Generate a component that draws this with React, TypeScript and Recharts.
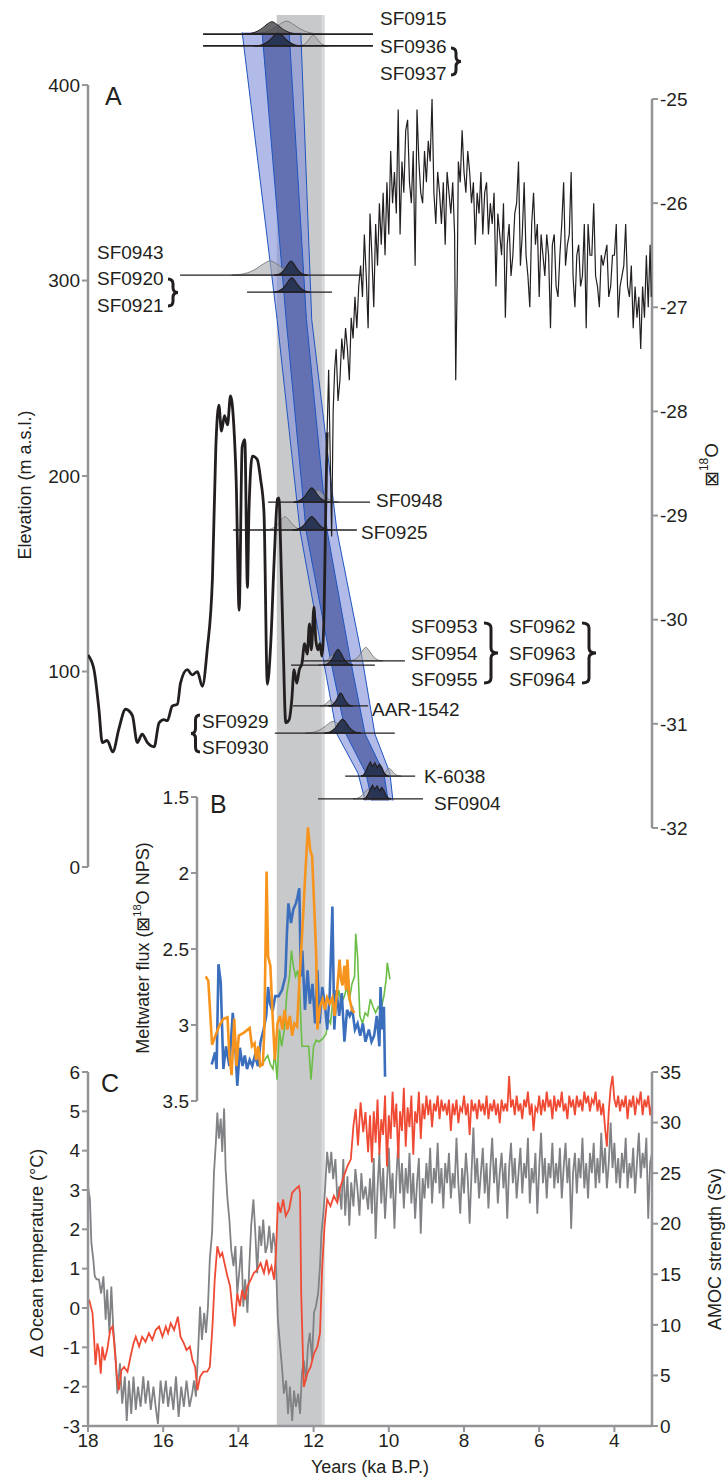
import React from "react";
import { ComposedChart, LineChart, Line, Area, XAxis, YAxis, ReferenceArea, ReferenceLine } from "recharts";

const W = 726;
const H = 1481;
const FONT = "'Liberation Sans', Arial, Helvetica, sans-serif";
const INK = "#231f20";
const AXIS = "#939598";

// shared x axis (ka BP)
const xTicks = [18, 16, 14, 12, 10, 8, 6, 4];
const elevTicks = [0, 100, 200, 300, 400];
const d18oTicks = [-32, -31, -30, -29, -28, -27, -26, -25];
const fluxTicks = [1.5, 2, 2.5, 3, 3.5];
const tempTicks = [-3, -2, -1, 0, 1, 2, 3, 4, 5, 6];
const amocTicks = [0, 5, 10, 15, 20, 25, 30, 35];
const youngerDryas = [12.98, 11.71];

// Panel A: δ18O, smoothed early part (thick) and the Holocene record (thin)
const d18oEarly: [number, number][] = [
  [18.0, -30.34], [17.84, -30.48], [17.71, -30.86], [17.62, -31.18], [17.49, -31.16], [17.34, -31.27], [17.18, -31.05],
  [17.0, -30.86], [16.82, -30.92], [16.69, -31.18], [16.56, -31.1], [16.42, -31.18], [16.24, -31.22], [16.11, -30.99],
  [15.98, -30.96], [15.89, -30.97], [15.76, -30.83], [15.62, -30.81], [15.54, -30.61], [15.36, -30.48], [15.23, -30.53],
  [15.09, -30.5], [14.96, -30.64], [14.83, -30.29], [14.69, -29.6], [14.6, -28.34], [14.52, -27.94], [14.45, -28.19],
  [14.37, -28.04], [14.29, -28.13], [14.21, -27.85], [14.12, -28.15], [14.06, -28.65], [13.98, -29.91], [13.9, -28.34],
  [13.83, -28.27], [13.76, -29.69], [13.72, -28.97], [13.63, -28.43], [13.5, -28.46], [13.41, -28.65], [13.32, -28.97],
  [13.23, -30.62], [13.14, -30.23], [13.05, -29.44], [12.96, -28.84], [12.92, -28.83], [12.88, -29.25], [12.81, -30.23],
  [12.74, -30.99], [12.65, -30.96], [12.58, -30.77], [12.52, -30.48], [12.45, -30.61], [12.38, -30.48], [12.31, -30.42],
  [12.24, -30.23], [12.17, -30.33], [12.11, -30.04], [12.06, -30.29], [11.99, -29.88], [11.94, -30.2], [11.88, -30.29],
  [11.83, -30.23], [11.78, -30.35], [11.72, -29.9], [11.68, -29.0], [11.64, -28.2],
];
const d18oHolocene: [number, number][] = [
  [11.64, -28.2], [11.6, -27.6], [11.56, -28.4], [11.52, -29.2], [11.48, -28.0], [11.44, -27.6], [11.4, -27.4], [11.35, -27.9],
  [11.3, -27.7], [11.25, -27.3], [11.2, -27.5], [11.15, -27.2], [11.1, -27.4], [11.05, -27.7], [11.0, -27.1], [10.95, -27.3],
  [10.9, -26.9], [10.85, -27.2], [10.8, -26.8], [10.75, -26.6], [10.7, -26.9], [10.65, -26.3], [10.6, -26.7], [10.55, -27.2],
  [10.5, -26.1], [10.45, -26.5], [10.4, -27.0], [10.35, -26.2], [10.3, -26.6], [10.25, -26.0], [10.2, -26.4], [10.15, -25.9],
  [10.1, -26.5], [10.05, -25.8], [10.0, -26.3], [9.95, -25.5], [9.9, -26.0], [9.85, -25.7], [9.8, -26.1], [9.75, -25.1],
  [9.7, -26.3], [9.65, -25.6], [9.6, -25.9], [9.55, -25.3], [9.5, -25.2], [9.45, -25.8], [9.4, -26.0], [9.35, -25.5],
  [9.3, -26.6], [9.25, -25.1], [9.2, -25.6], [9.15, -25.9], [9.1, -26.0], [9.05, -25.5], [9.0, -25.8], [8.95, -25.4],
  [8.9, -25.6], [8.85, -25.0], [8.8, -25.9], [8.75, -26.2], [8.7, -25.7], [8.65, -25.9], [8.6, -26.2], [8.55, -25.8],
  [8.5, -26.4], [8.45, -25.7], [8.4, -25.9], [8.35, -26.1], [8.3, -25.8], [8.25, -26.3], [8.22, -27.7], [8.18, -26.7],
  [8.15, -25.6], [8.1, -25.8], [8.05, -25.3], [8.0, -25.7], [7.95, -25.9], [7.9, -25.5], [7.85, -25.7], [7.8, -26.0],
  [7.75, -25.8], [7.7, -26.4], [7.65, -25.9], [7.6, -26.1], [7.55, -25.7], [7.5, -26.3], [7.45, -25.9], [7.4, -25.8],
  [7.35, -26.3], [7.3, -26.0], [7.25, -26.2], [7.2, -25.9], [7.15, -26.8], [7.1, -26.1], [7.05, -26.3], [7.0, -26.5],
  [6.95, -26.0], [6.9, -27.1], [6.85, -26.4], [6.8, -26.2], [6.75, -26.7], [6.7, -26.5], [6.65, -26.1], [6.6, -26.0],
  [6.55, -25.6], [6.5, -26.6], [6.45, -26.3], [6.4, -25.8], [6.35, -26.5], [6.3, -26.7], [6.25, -27.0], [6.2, -26.2],
  [6.15, -25.9], [6.1, -26.4], [6.05, -26.2], [6.0, -26.9], [5.95, -26.3], [5.9, -26.5], [5.85, -26.7], [5.8, -26.3],
  [5.75, -26.5], [5.7, -27.2], [5.65, -26.4], [5.6, -26.3], [5.55, -26.8], [5.5, -26.9], [5.45, -26.5], [5.4, -26.2],
  [5.35, -25.8], [5.3, -26.6], [5.25, -26.4], [5.2, -26.3], [5.15, -25.7], [5.1, -26.7], [5.05, -27.0], [5.0, -26.5],
  [4.95, -26.4], [4.9, -26.8], [4.85, -26.7], [4.8, -26.2], [4.75, -27.2], [4.7, -26.2], [4.65, -26.5], [4.6, -26.5],
  [4.55, -26.0], [4.5, -26.7], [4.45, -26.8], [4.4, -27.0], [4.35, -26.5], [4.3, -26.6], [4.25, -26.5], [4.2, -26.4],
  [4.15, -26.9], [4.1, -26.8], [4.05, -26.5], [4.0, -26.5], [3.95, -26.2], [3.9, -27.1], [3.85, -26.8], [3.8, -26.7],
  [3.75, -26.6], [3.7, -26.2], [3.65, -26.8], [3.6, -26.9], [3.55, -26.6], [3.5, -27.2], [3.45, -26.8], [3.4, -27.1],
  [3.35, -26.9], [3.3, -27.4], [3.25, -26.8], [3.2, -27.1], [3.15, -26.5], [3.1, -27.0], [3.05, -26.4], [3.02, -26.9],
];

// Panel A: thinning-history envelopes (elevation, age edges)
const bandElev = [427, 280, 172, 107, 68, 48, 34];
const outerOld = [13.9, 12.97, 12.36, 11.75, 11.38, 10.82, 10.63];
const innerOld = [13.37, 12.73, 12.2, 11.56, 11.14, 10.61, 10.45];
const innerYoung = [12.65, 12.19, 11.64, 11.03, 10.63, 10.13, 10.02];
const outerYoung = [12.34, 12.05, 11.38, 10.71, 10.37, 9.97, 9.89];

// Panel A: exposure-age sample lines [elevation, oldest age, youngest age]
const sampleLines: [number, number, number][] = [
  [426.1, 14.94, 10.42], [420.0, 14.94, 10.42], [302.8, 15.55, 10.71], [294.1, 13.77, 11.51],
  [186.7, 13.21, 10.5], [172.4, 14.14, 10.85], [105.4, 12.34, 9.57], [103.3, 12.6, 10.37],
  [82.4, 12.55, 10.55], [68.5, 13.03, 9.84], [46.5, 11.16, 9.3], [34.8, 11.88, 9.09],
];
// age probability curves [elevation, centre age, half width, height]
const pdfGray: [number, number, number, number][] = [
  [426.1, 12.72, 0.93, 6.6], [420.0, 12.01, 0.4, 5.6], [302.8, 13.16, 1.02, 7.2], [186.7, 11.88, 0.55, 6.0],
  [172.4, 12.76, 0.53, 6.8], [105.4, 10.61, 0.45, 7.0], [103.3, 11.51, 0.37, 5.0], [82.4, 11.56, 0.27, 3.0],
  [68.5, 11.48, 0.74, 6.0], [46.5, 9.99, 0.32, 4.0], [34.8, 10.55, 0.4, 5.0],
];
const pdfDark: [number, number, number, number][] = [[426.1, 13.11, 0.75, 6.3]];
const pdfNavy: [number, number, number, number][] = [
  [420.0, 12.94, 0.64, 6.5], [302.8, 12.6, 0.44, 7.2], [294.1, 12.58, 0.48, 7.3], [186.7, 12.05, 0.48, 7.2],
  [172.4, 12.05, 0.51, 6.8], [103.3, 11.35, 0.4, 8.0], [82.4, 11.28, 0.32, 6.6], [68.5, 11.23, 0.48, 7.0],
];
const pdfJaggedNavy: [number, number, number, number][] = [[46.5, 10.37, 0.37, 7.2], [34.8, 10.31, 0.37, 7.0]];
const pdfSteps = [-1, -0.83, -0.67, -0.5, -0.33, -0.17, 0, 0.17, 0.33, 0.5, 0.67, 0.83, 1];
const pdfShape = [0, 0.03, 0.1, 0.25, 0.5, 0.8, 1, 0.8, 0.5, 0.25, 0.1, 0.03, 0];
const pdfJagged = [0, 0.05, 0.2, 0.6, 0.85, 0.6, 0.95, 0.7, 1, 0.7, 0.3, 0.06, 0];

// Panel B: meltwater flux
const fluxBlue: [number, number][] = [
  [14.71, 3.26], [14.62, 3.18], [14.58, 3.29], [14.53, 2.6], [14.47, 2.72], [14.4, 3.29], [14.33, 3.14], [14.24, 3.27],
  [14.15, 2.92], [14.09, 3.11], [14.03, 3.4], [13.96, 3.15], [13.89, 3.27], [13.83, 3.2], [13.77, 3.29], [13.7, 3.23],
  [13.63, 3.27], [13.56, 3.2], [13.48, 3.27], [13.41, 3.11], [13.33, 3.03], [13.26, 2.94], [13.21, 2.75], [13.16, 2.86],
  [13.09, 2.91], [13.02, 2.81], [12.93, 2.81], [12.84, 2.77], [12.75, 2.68], [12.71, 2.4], [12.67, 2.2], [12.6, 2.33],
  [12.54, 2.24], [12.47, 2.2], [12.43, 2.16], [12.38, 2.1], [12.34, 2.68], [12.3, 2.51], [12.23, 2.9], [12.16, 2.64],
  [12.1, 2.86], [12.03, 2.73], [11.96, 2.99], [11.9, 2.64], [11.84, 2.99], [11.77, 2.75], [11.7, 2.86], [11.64, 3.03],
  [11.57, 2.79], [11.5, 2.22], [11.45, 3.03], [11.39, 2.77], [11.32, 2.94], [11.25, 2.79], [11.18, 3.11], [11.11, 2.9],
  [11.04, 2.94], [10.97, 2.9], [10.9, 3.03], [10.83, 2.99], [10.76, 3.07], [10.69, 2.99], [10.62, 3.11], [10.53, 3.03],
  [10.46, 3.11], [10.39, 3.07], [10.32, 2.94], [10.25, 3.14], [10.22, 2.75], [10.17, 3.03], [10.13, 2.88], [10.1, 3.34],
];
const fluxOrange: [number, number][] = [
  [14.87, 2.68], [14.8, 2.71], [14.7, 3.13], [14.61, 3.07], [14.52, 3.01], [14.4, 2.96], [14.29, 2.95], [14.24, 3.2],
  [14.18, 3.33], [14.11, 2.96], [14.05, 3.27], [13.99, 3.07], [13.85, 3.05], [13.7, 3.02], [13.64, 3.14], [13.57, 3.12],
  [13.53, 3.23], [13.47, 3.14], [13.42, 3.27], [13.35, 3.26], [13.31, 3.03], [13.25, 1.99], [13.21, 2.55], [13.15, 2.61],
  [13.09, 2.94], [13.03, 3.23], [12.96, 2.99], [12.89, 2.94], [12.83, 3.03], [12.77, 2.9], [12.7, 3.03], [12.63, 2.94],
  [12.57, 3.07], [12.51, 2.99], [12.44, 3.01], [12.37, 2.68], [12.28, 2.29], [12.22, 2.0], [12.15, 1.7], [12.09, 1.85],
  [12.04, 1.89], [11.98, 2.24], [11.93, 2.55], [11.9, 3.03], [11.83, 2.88], [11.76, 2.83], [11.7, 2.9], [11.64, 2.82],
  [11.57, 2.86], [11.5, 2.82], [11.44, 2.94], [11.38, 2.79], [11.31, 2.57], [11.27, 2.7], [11.23, 2.74], [11.18, 2.61],
  [11.14, 2.77], [11.1, 2.57], [11.05, 2.82], [10.98, 2.9], [10.91, 2.92],
];
const fluxGreen: [number, number][] = [
  [13.39, 3.26], [13.3, 3.23], [13.22, 3.2], [13.15, 3.26], [13.08, 3.29], [13.03, 3.18], [12.97, 3.36], [12.91, 3.03],
  [12.85, 3.14], [12.78, 3.03], [12.71, 2.79], [12.64, 2.68], [12.59, 2.51], [12.54, 2.61], [12.48, 2.68], [12.42, 2.64],
  [12.37, 2.77], [12.31, 3.14], [12.22, 3.14], [12.13, 3.14], [12.07, 3.36], [12.0, 3.14], [11.93, 3.1], [11.85, 3.11],
  [11.76, 3.09], [11.67, 3.06], [11.61, 2.96], [11.55, 2.99], [11.48, 2.81], [11.4, 2.86], [11.33, 2.77], [11.27, 2.86],
  [11.18, 2.81], [11.12, 2.75], [11.05, 2.84], [10.98, 2.73], [10.91, 2.68], [10.88, 2.4], [10.83, 2.55], [10.77, 2.94],
  [10.7, 2.99], [10.63, 2.92], [10.56, 2.94], [10.49, 2.83], [10.42, 2.88], [10.35, 2.92], [10.28, 2.88], [10.21, 2.9],
  [10.13, 2.81], [10.07, 2.7], [10.04, 2.59], [9.97, 2.7],
];

// Panel C: ocean temperature anomaly (°C)
const oceanTemp: [number, number][] = [
  [17.97, 0.21], [17.88, -0.13], [17.84, -0.73], [17.8, -1.45], [17.75, -0.9], [17.71, -1.07], [17.66, -1.67], [17.62, -0.98],
  [17.56, -1.33], [17.49, -1.07], [17.41, -0.56], [17.35, -0.47], [17.31, -0.81], [17.24, -1.67], [17.18, -2.09], [17.11, -1.58],
  [17.04, -1.5], [16.95, -1.62], [16.87, -1.24], [16.79, -0.9], [16.73, -0.73], [16.64, -0.98], [16.56, -0.73], [16.47, -0.86],
  [16.38, -0.64], [16.29, -0.81], [16.2, -0.56], [16.11, -0.47], [16.02, -0.73], [15.93, -0.47], [15.87, -0.64], [15.8, -0.39],
  [15.71, -0.56], [15.61, -0.22], [15.54, -0.73], [15.45, -0.9], [15.38, -1.07], [15.29, -0.98], [15.22, -1.33], [15.15, -1.5],
  [15.09, -2.09], [15.02, -1.75], [14.93, -1.62], [14.83, -1.62], [14.76, -1.5], [14.69, -0.47], [14.63, 0.72], [14.56, 1.57],
  [14.49, 1.31], [14.43, 1.4], [14.37, 1.14], [14.29, 0.8], [14.22, 0.55], [14.15, -0.13], [14.1, -0.47], [14.03, 0.38],
  [13.96, 0.04], [13.9, 0.46], [13.83, 0.21], [13.76, 0.55], [13.67, 0.72], [13.59, 0.89], [13.5, 0.97], [13.41, 1.14],
  [13.32, 0.89], [13.25, 1.23], [13.19, 0.89], [13.12, 1.06], [13.05, 0.72], [13.0, 1.4], [12.95, 2.68], [12.88, 2.42],
  [12.81, 2.76], [12.74, 2.34], [12.65, 2.51], [12.57, 2.93], [12.48, 3.02], [12.39, 3.1], [12.36, 2.93], [12.33, 0.38],
  [12.26, -2.01], [12.17, -1.67], [12.08, -1.5], [11.99, -1.16], [11.9, -0.98], [11.83, -0.64], [11.77, 1.06], [11.71, 2.08],
  [11.64, 2.76], [11.55, 2.59], [11.46, 2.85], [11.37, 2.68], [11.28, 3.1], [11.19, 3.36], [11.1, 3.61], [11.01, 3.78],
  [10.94, 4.64], [10.88, 5.06], [10.82, 4.13], [10.75, 5.23], [10.68, 4.47], [10.62, 4.98], [10.55, 3.96],
  [10.5, 4.9], [10.45, 3.7], [10.4, 5.0], [10.35, 4.2], [10.3, 5.3], [10.25, 3.9], [10.2, 4.8], [10.15, 4.4], [10.1, 5.4],
  [10.05, 3.6], [10.0, 4.9], [9.95, 4.3], [9.9, 5.5], [9.85, 4.6], [9.8, 5.2], [9.75, 3.8], [9.7, 5.0], [9.65, 4.5],
  [9.6, 5.6], [9.55, 4.1], [9.5, 5.1], [9.45, 4.6], [9.4, 5.4], [9.35, 3.9], [9.3, 5.0], [9.25, 4.7], [9.2, 5.5],
  [9.15, 4.3], [9.1, 5.2], [9.05, 4.8], [9.0, 5.4], [8.95, 4.9], [8.9, 5.3], [8.85, 4.6], [8.8, 5.2], [8.75, 5.0],
  [8.7, 5.4], [8.65, 4.8], [8.6, 5.3], [8.55, 5.0], [8.5, 5.2], [8.45, 4.9], [8.4, 5.3], [8.35, 4.5], [8.3, 5.2],
  [8.25, 4.9], [8.2, 5.3], [8.15, 4.7], [8.1, 5.1], [8.05, 5.0], [8.0, 5.4], [7.95, 4.9], [7.9, 5.2], [7.85, 4.4],
  [7.8, 5.3], [7.75, 5.0], [7.7, 5.2], [7.65, 4.8], [7.6, 5.3], [7.55, 5.0], [7.5, 5.2], [7.45, 4.9], [7.4, 5.4],
  [7.35, 4.8], [7.3, 5.2], [7.25, 5.0], [7.2, 5.3], [7.15, 4.9], [7.1, 5.2], [7.05, 4.7], [7.0, 5.3], [6.95, 5.0],
  [6.9, 5.2], [6.85, 5.0], [6.8, 5.9], [6.75, 5.1], [6.7, 5.3], [6.65, 4.9], [6.6, 5.4], [6.55, 5.0], [6.5, 5.2],
  [6.45, 4.8], [6.4, 5.3], [6.35, 5.1], [6.3, 5.5], [6.25, 4.9], [6.2, 5.2], [6.15, 4.5], [6.1, 5.1], [6.05, 5.0],
  [6.0, 5.4], [5.95, 4.9], [5.9, 5.3], [5.85, 5.0], [5.8, 5.5], [5.75, 5.1], [5.7, 5.3], [5.65, 4.8], [5.6, 5.4],
  [5.55, 5.0], [5.5, 5.3], [5.45, 5.1], [5.4, 5.5], [5.35, 5.0], [5.3, 5.2], [5.25, 4.8], [5.2, 5.4], [5.15, 5.1],
  [5.1, 5.3], [5.05, 4.9], [5.0, 5.4], [4.95, 5.1], [4.9, 5.3], [4.85, 5.0], [4.8, 5.5], [4.75, 5.2], [4.7, 5.4],
  [4.65, 5.0], [4.6, 5.3], [4.55, 5.2], [4.5, 5.5], [4.45, 5.0], [4.4, 5.3], [4.35, 4.9], [4.3, 5.2], [4.25, 4.6],
  [4.2, 4.1], [4.15, 5.0], [4.1, 5.6], [4.05, 5.9], [4.0, 5.3], [3.95, 5.1], [3.9, 5.4], [3.85, 5.0], [3.8, 5.3],
  [3.75, 5.1], [3.7, 5.4], [3.65, 4.8], [3.6, 5.3], [3.55, 5.1], [3.5, 5.4], [3.45, 4.9], [3.4, 5.3], [3.35, 5.2],
  [3.3, 5.5], [3.25, 4.9], [3.2, 5.3], [3.15, 5.1], [3.1, 5.4], [3.05, 4.9], [3.0, 5.2],
];

// Panel C: AMOC strength (Sv)
const amoc: [number, number][] = [
  [18.0, 23.7], [17.95, 22.4], [17.91, 18.1], [17.86, 16.5], [17.82, 14.8], [17.77, 14.5], [17.71, 14.5], [17.65, 13.1],
  [17.59, 14.8], [17.53, 10.5], [17.49, 13.5], [17.43, 9.2], [17.38, 13.8], [17.33, 9.8], [17.26, 6.5], [17.22, 3.2],
  [17.15, 6.2], [17.09, 2.2], [17.02, 4.9], [16.97, 0.5], [16.91, 4.5], [16.85, 1.2], [16.79, 4.9], [16.73, 1.6],
  [16.67, 3.9], [16.6, 1.9], [16.53, 4.9], [16.47, 2.2], [16.4, 4.5], [16.33, 1.6], [16.26, 3.9], [16.2, 1.9],
  [16.14, 0.2], [16.07, 4.5], [16.0, 2.2], [15.93, 4.5], [15.87, 1.9], [15.8, 3.9], [15.73, 1.6], [15.66, 4.9],
  [15.59, 0.9], [15.52, 3.9], [15.45, 1.9], [15.38, 4.5], [15.3, 1.9], [15.23, 3.2], [15.18, 4.5], [15.13, 2.9],
  [15.07, 7.5], [15.02, 11.8], [14.97, 8.5], [14.91, 11.2], [14.86, 9.2], [14.81, 11.8], [14.76, 16.5], [14.7, 19.1],
  [14.65, 25.0], [14.6, 28.0], [14.56, 31.0], [14.52, 28.4], [14.47, 30.4], [14.43, 27.1], [14.38, 31.4], [14.34, 25.4],
  [14.29, 22.4], [14.24, 20.4], [14.19, 17.4], [14.13, 15.8], [14.08, 17.8], [14.03, 13.1], [13.98, 15.1], [13.92, 17.8],
  [13.87, 11.8], [13.82, 14.5], [13.76, 11.2], [13.71, 15.8], [13.66, 19.8], [13.6, 22.4], [13.55, 19.1], [13.5, 15.1],
  [13.44, 19.8], [13.39, 17.8], [13.34, 20.4], [13.28, 17.1], [13.23, 17.8], [13.18, 19.8], [13.12, 17.1], [13.07, 19.1],
  [13.02, 17.8], [12.98, 13.8], [12.95, 10.5], [12.89, 7.9], [12.84, 5.8], [12.79, 3.2], [12.73, 4.5], [12.68, 1.2],
  [12.63, 3.9], [12.57, 0.5], [12.52, 3.5], [12.47, 1.9], [12.41, 3.2], [12.36, 1.2], [12.31, 5.2], [12.26, 6.5],
  [12.2, 4.5], [12.15, 7.9], [12.1, 9.2], [12.04, 6.5], [11.99, 11.2], [11.94, 11.8], [11.88, 13.1], [11.83, 15.8],
  [11.79, 19.1], [11.74, 21.1], [11.69, 23.7], [11.64, 27.1], [11.58, 25.0], [11.53, 27.1], [11.48, 24.4], [11.42, 26.4],
  [11.37, 22.4], [11.32, 23.7], [11.26, 21.4], [11.21, 26.4], [11.16, 20.8], [11.1, 24.7], [11.05, 19.8], [11.0, 24.1],
  [10.94, 21.7], [10.89, 25.4], [10.84, 23.7], [10.78, 20.8], [10.73, 25.0], [10.68, 22.4], [10.62, 23.7], [10.55, 21.4],
  [10.5, 24.5], [10.45, 21.0], [10.4, 26.5], [10.35, 18.5], [10.3, 23.5], [10.25, 27.0], [10.2, 22.0], [10.15, 25.5],
  [10.1, 20.5], [10.05, 24.0], [10.0, 27.5], [9.95, 22.5], [9.9, 25.0], [9.85, 19.5], [9.8, 24.5], [9.75, 28.0],
  [9.7, 23.0], [9.65, 26.0], [9.6, 21.5], [9.55, 25.5], [9.5, 23.0], [9.45, 27.0], [9.4, 22.0], [9.35, 25.0],
  [9.3, 20.5], [9.25, 24.0], [9.2, 26.5], [9.15, 19.0], [9.1, 24.5], [9.05, 22.5], [9.0, 26.0], [8.95, 23.5],
  [8.9, 27.5], [8.85, 22.0], [8.8, 25.5], [8.75, 24.0], [8.7, 28.0], [8.65, 23.0], [8.6, 25.5], [8.55, 21.5],
  [8.5, 26.0], [8.45, 24.0], [8.4, 27.0], [8.35, 22.5], [8.3, 25.0], [8.25, 23.5], [8.2, 28.5], [8.15, 24.0],
  [8.1, 21.0], [8.05, 25.5], [8.0, 23.0], [7.95, 27.0], [7.9, 24.5], [7.85, 20.0], [7.8, 25.0], [7.75, 29.5],
  [7.7, 24.0], [7.65, 26.5], [7.6, 22.5], [7.55, 25.0], [7.5, 27.5], [7.45, 23.0], [7.4, 26.0], [7.35, 21.5],
  [7.3, 25.5], [7.25, 28.5], [7.2, 24.0], [7.15, 26.5], [7.1, 22.0], [7.05, 25.0], [7.0, 27.0], [6.95, 23.5],
  [6.9, 26.0], [6.85, 20.5], [6.8, 25.5], [6.75, 28.0], [6.7, 24.0], [6.65, 26.5], [6.6, 22.5], [6.55, 25.0],
  [6.5, 27.5], [6.45, 23.0], [6.4, 26.0], [6.35, 24.5], [6.3, 28.5], [6.25, 22.0], [6.2, 25.5], [6.15, 24.0],
  [6.1, 27.0], [6.05, 21.0], [6.0, 25.5], [5.95, 29.0], [5.9, 24.0], [5.85, 26.5], [5.8, 22.5], [5.75, 26.0],
  [5.7, 24.5], [5.65, 28.0], [5.6, 23.5], [5.55, 26.0], [5.5, 24.0], [5.45, 27.5], [5.4, 22.5], [5.35, 25.5],
  [5.3, 28.0], [5.25, 24.0], [5.2, 26.5], [5.15, 19.5], [5.1, 25.0], [5.05, 27.0], [5.0, 23.0], [4.95, 26.5],
  [4.9, 24.5], [4.85, 28.5], [4.8, 23.5], [4.75, 26.0], [4.7, 22.5], [4.65, 27.0], [4.6, 25.0], [4.55, 28.0],
  [4.5, 23.5], [4.45, 26.5], [4.4, 24.0], [4.35, 29.0], [4.3, 25.0], [4.25, 27.5], [4.2, 23.5], [4.15, 26.0],
  [4.1, 30.0], [4.05, 25.5], [4.0, 28.0], [3.95, 24.0], [3.9, 26.5], [3.85, 23.5], [3.8, 27.0], [3.75, 25.0],
  [3.7, 28.5], [3.65, 23.5], [3.6, 26.0], [3.55, 24.5], [3.5, 27.5], [3.45, 23.0], [3.4, 26.0], [3.35, 29.0],
  [3.3, 24.5], [3.25, 27.0], [3.2, 25.5], [3.15, 28.5], [3.1, 20.5], [3.05, 26.0], [3.0, 27.0],
];

const tick = { fontSize: 19, fill: INK, fontFamily: FONT };
const axisLine = { stroke: AXIS, strokeWidth: 2.5 };
const tickLine = { stroke: AXIS, strokeWidth: 2 };

const pts = (arr: [number, number][], key: string) => arr.map(([t, v]) => ({ t, [key]: v }));
const band = (old: number[], young: number[]) => bandElev.map((e, i) => ({ e, r: [young[i], old[i]] }));
const pdf = ([e, c, w, h]: number[], shape: number[]) =>
  pdfSteps.map((s, i) => ({ t: c + s * w, r: [e, e + h * shape[i]] }));
const ydData = youngerDryas.map((t) => ({ t, v: 0 }));

function Background() {
  return (
    <LineChart width={W} height={H} data={ydData} margin={{ top: 15, right: 74, bottom: 55, left: 88 }}>
      <XAxis type="number" dataKey="t" domain={[3, 18]} reversed hide />
      <YAxis type="number" domain={[0, 1]} hide />
      <ReferenceArea x1={youngerDryas[0]} x2={youngerDryas[1]} y1={0} y2={1} fill="#c8c9cb" fillOpacity={1}
        stroke="none" ifOverflow="visible" />
      <ReferenceArea x1={11.79} x2={youngerDryas[1]} y1={0} y2={1} fill="#d8d9db" fillOpacity={1}
        stroke="none" ifOverflow="visible" />
      <Line dataKey="v" stroke="none" dot={false} isAnimationActive={false} />
    </LineChart>
  );
}

function Bands() {
  return (
    <ComposedChart width={W} height={H} layout="vertical" margin={{ top: 10, right: 74, bottom: 614, left: 88 }}>
      <XAxis type="number" domain={[3, 18]} reversed hide allowDataOverflow />
      <YAxis type="number" dataKey="e" domain={[0, 438.4]} reversed hide allowDataOverflow />
      <Area data={band(outerOld, outerYoung)} dataKey="r" type="linear" fill="#8291d8" fillOpacity={0.62}
        stroke="#1f55c0" strokeWidth={1} isAnimationActive={false} />
      <Area data={band(innerOld, innerYoung)} dataKey="r" type="linear" fill="#6371b3" fillOpacity={1}
        stroke="#1f55c0" strokeWidth={1} isAnimationActive={false} />
    </ComposedChart>
  );
}

function PanelA() {
  return (
    <ComposedChart width={W} height={H} margin={{ top: 10, right: 14, bottom: 614, left: 28 }}>
      <XAxis type="number" dataKey="t" domain={[3, 18]} reversed hide allowDataOverflow />
      <YAxis yAxisId="l" type="number" domain={[0, 438.4]} ticks={elevTicks} width={60} tick={tick}
        tickLine={tickLine} axisLine={false} tickSize={6} allowDataOverflow />
      <YAxis yAxisId="r" orientation="right" type="number" domain={[-32.375, -24.145]} ticks={d18oTicks} width={60}
        tick={tick} tickLine={tickLine} axisLine={false} tickSize={6} allowDataOverflow />
      <ReferenceLine yAxisId="l" segment={[{ x: 18, y: 0 }, { x: 18, y: 400 }]} stroke={AXIS} strokeWidth={2.5} />
      <ReferenceLine yAxisId="r" segment={[{ x: 3, y: -32 }, { x: 3, y: -25 }]} stroke={AXIS} strokeWidth={2.5} />
      {pdfGray.map((p, i) => (
        <Area key={"g" + i} yAxisId="l" data={pdf(p, pdfShape)} dataKey="r" type="monotone" fill="#a7a8aa"
          fillOpacity={0.6} stroke="#6d6e71" strokeWidth={0.8} isAnimationActive={false} />
      ))}
      {pdfDark.map((p, i) => (
        <Area key={"d" + i} yAxisId="l" data={pdf(p, pdfShape)} dataKey="r" type="monotone" fill="#4d4e52"
          fillOpacity={0.85} stroke={INK} strokeWidth={1} isAnimationActive={false} />
      ))}
      {pdfNavy.map((p, i) => (
        <Area key={"n" + i} yAxisId="l" data={pdf(p, pdfShape)} dataKey="r" type="monotone" fill="#26314f"
          fillOpacity={0.95} stroke={INK} strokeWidth={1.2} isAnimationActive={false} />
      ))}
      {pdfJaggedNavy.map((p, i) => (
        <Area key={"j" + i} yAxisId="l" data={pdf(p, pdfJagged)} dataKey="r" type="linear" fill="#26314f"
          fillOpacity={0.95} stroke={INK} strokeWidth={1.2} isAnimationActive={false} />
      ))}
      {sampleLines.map(([e, t1, t2], i) => (
        <Line key={"s" + i} yAxisId="l" data={[{ t: t1, e }, { t: t2, e }]} dataKey="e" stroke={INK}
          strokeWidth={i < 2 ? 1.8 : 1.3} dot={false} isAnimationActive={false} />
      ))}
      <Line yAxisId="r" data={pts(d18oEarly, "d")} dataKey="d" type="monotone" stroke={INK} strokeWidth={2.8}
        dot={false} isAnimationActive={false} />
      <Line yAxisId="r" data={pts(d18oHolocene, "d")} dataKey="d" type="linear" stroke={INK} strokeWidth={1.2}
        dot={false} isAnimationActive={false} />
    </ComposedChart>
  );
}

function PanelB() {
  return (
    <LineChart width={W} height={H} margin={{ top: 797, right: 74, bottom: 380, left: 137 }}>
      <XAxis type="number" dataKey="t" domain={[3, 15.101]} reversed hide allowDataOverflow />
      <YAxis type="number" domain={[1.5, 3.5]} reversed ticks={fluxTicks} width={60} tick={tick}
        tickLine={tickLine} axisLine={axisLine} tickSize={6} />
      <Line data={pts(fluxGreen, "v")} dataKey="v" stroke="#6abd45" strokeWidth={1.6} dot={false} isAnimationActive={false} />
      <Line data={pts(fluxBlue, "v")} dataKey="v" stroke="#3b6fbe" strokeWidth={2.6} dot={false} isAnimationActive={false} />
      <Line data={pts(fluxOrange, "v")} dataKey="v" stroke="#f7941d" strokeWidth={2.6} dot={false} isAnimationActive={false} />
    </LineChart>
  );
}

function PanelC() {
  return (
    <LineChart width={W} height={H} margin={{ top: 1072, right: 14, bottom: 15, left: 28 }}>
      <XAxis type="number" dataKey="t" domain={[3, 18]} reversed ticks={xTicks} height={40} tick={tick}
        tickLine={tickLine} axisLine={axisLine} tickSize={6} />
      <YAxis yAxisId="l" type="number" domain={[-3, 6]} ticks={tempTicks} width={60} tick={tick}
        tickLine={tickLine} axisLine={axisLine} tickSize={6} />
      <YAxis yAxisId="r" orientation="right" type="number" domain={[0, 35]} ticks={amocTicks} width={60} tick={tick}
        tickLine={tickLine} axisLine={axisLine} tickSize={6} />
      <Line yAxisId="r" data={pts(amoc, "v")} dataKey="v" stroke="#808285" strokeWidth={1.8} dot={false}
        isAnimationActive={false} />
      <Line yAxisId="l" data={pts(oceanTemp, "v")} dataKey="v" stroke="#ef4a34" strokeWidth={1.8} dot={false}
        isAnimationActive={false} />
    </LineChart>
  );
}

// curly bracket; negative w points left
function brace(x: number, y1: number, y2: number, w: number) {
  const m = (y1 + y2) / 2;
  const r = Math.min(5, (y2 - y1) / 5);
  const xm = x + w * 0.5;
  return `M${x},${y1} Q${xm},${y1} ${xm},${y1 + r} L${xm},${m - r} Q${xm},${m} ${x + w},${m} ` +
    `Q${xm},${m} ${xm},${m + r} L${xm},${y2 - r} Q${xm},${y2} ${x},${y2}`;
}

const sampleLabels: [string, number, number][] = [
  ["SF0915", 380, 18], ["SF0936", 380, 46], ["SF0937", 380, 73],
  ["SF0943", 97, 252], ["SF0920", 97, 278], ["SF0921", 97, 305],
  ["SF0948", 376, 500], ["SF0925", 361, 532],
  ["SF0953", 411, 626], ["SF0954", 411, 653], ["SF0955", 411, 679],
  ["SF0962", 509, 626], ["SF0963", 509, 653], ["SF0964", 509, 679],
  ["AAR-1542", 372, 709], ["SF0929", 202, 721], ["SF0930", 202, 747],
  ["K-6038", 424, 776], ["SF0904", 434, 803],
];

function Annotations() {
  const txt = { fontFamily: FONT, fill: INK, fontSize: 19, dominantBaseline: "central" as const };
  return (
    <svg width={W} height={H} style={{ position: "absolute", left: 0, top: 0, pointerEvents: "none" }}>
      {sampleLabels.map(([s, x, y]) => (
        <text key={s} x={x} y={y} {...txt}>{s}</text>
      ))}
      <g fill="none" stroke={INK} strokeWidth={3}>
        <path d={brace(451, 48, 75, 10)} />
        <path d={brace(168, 279, 306, 10)} />
        <path d={brace(484, 623, 683, 14)} />
        <path d={brace(582, 623, 683, 14)} />
        <path d={brace(200, 715, 752, -9)} />
      </g>
      <text x={105} y={96} {...txt} fontSize={25}>A</text>
      <text x={210} y={804} {...txt} fontSize={25}>B</text>
      <text x={101} y={1083} {...txt} fontSize={25}>C</text>
      <text transform="translate(25,485) rotate(-90)" textAnchor="middle" {...txt} fontSize={18}>Elevation (m a.s.l.)</text>
      <text transform="translate(711,465) rotate(-90)" textAnchor="middle" {...txt} fontSize={19}>
        ⊠<tspan fontSize={12} dy={-7}>18</tspan><tspan dy={7}>O</tspan>
      </text>
      <text transform="translate(143,948) rotate(-90)" textAnchor="middle" {...txt} fontSize={18}>
        Meltwater flux (⊠<tspan fontSize={11} dy={-6}>18</tspan><tspan dy={6}>O NPS)</tspan>
      </text>
      <text transform="translate(37,1253) rotate(-90)" textAnchor="middle" {...txt} fontSize={18}>Δ Ocean temperature (°C)</text>
      <text transform="translate(715,1249) rotate(-90)" textAnchor="middle" {...txt} fontSize={18}>AMOC strength (Sv)</text>
      <text x={370} y={1467} textAnchor="middle" {...txt} fontSize={18}>Years (ka B.P.)</text>
    </svg>
  );
}

const layer: React.CSSProperties = { position: "absolute", left: 0, top: 0 };

export default function App() {
  return (
    <div style={{ position: "relative", width: W, height: H, background: "#fff", overflow: "hidden" }}>
      <style>{"body{margin:0}"}</style>
      <div style={layer}><Background /></div>
      <div style={layer}><Bands /></div>
      <div style={layer}><PanelA /></div>
      <div style={layer}><PanelB /></div>
      <div style={layer}><PanelC /></div>
      <Annotations />
    </div>
  );
}
